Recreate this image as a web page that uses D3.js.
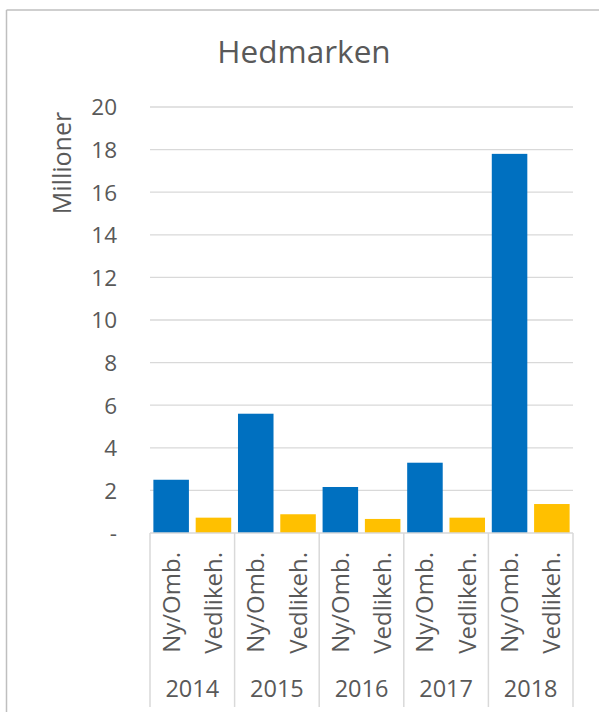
<!DOCTYPE html>
<html>
<head>
<meta charset="utf-8">
<script src="https://cdn.jsdelivr.net/npm/d3@7"></script>
<style>
  html, body { margin: 0; padding: 0; background: #fff; }
  svg { display: block; }
  text { font-family: "Open Sans", "Noto Sans", sans-serif; fill: #595959; }
</style>
</head>
<body>
<script>
const title = "Hedmarken";
const yAxisTitle = "Millioner";
const years = ["2014", "2015", "2016", "2017", "2018"];
const subCategories = ["Ny/Omb.", "Vedlikeh."];
const nyOmb = [2.5, 5.6, 2.16, 3.3, 17.8];
const vedlikeh = [0.72, 0.88, 0.66, 0.72, 1.36];
const yTicks = [0, 2, 4, 6, 8, 10, 12, 14, 16, 18, 20];
const colors = ["#0070C0", "#FFC000"];

(function () {
const W = 599, H = 713;
const svg = d3.select("body").append("svg").attr("width", W).attr("height", H);

// outer frame (top and left visible)
svg.append("line").attr("x1", 6.5).attr("x2", W).attr("y1", 10).attr("y2", 10)
  .attr("stroke", "#bfbfbf").attr("stroke-width", 1.5);
svg.append("line").attr("x1", 6.5).attr("x2", 6.5).attr("y1", 10).attr("y2", 712)
  .attr("stroke", "#bfbfbf").attr("stroke-width", 1.5);

const pLeft = 150, pRight = 573, pTop = 107, pBottom = 533;

const y = d3.scaleLinear().domain([0, 20]).range([pBottom, pTop]);
const x0 = d3.scaleBand().domain(years).range([pLeft, pRight]).paddingInner(0).paddingOuter(0);
const x1 = d3.scaleBand().domain(subCategories).range([0, x0.bandwidth()]).paddingInner(0.16).paddingOuter(0.08);

// gridlines
svg.append("g").selectAll("line").data(yTicks.filter(d => d > 0)).join("line")
  .attr("x1", pLeft).attr("x2", pRight)
  .attr("y1", d => y(d)).attr("y2", d => y(d))
  .attr("stroke", "#d9d9d9").attr("stroke-width", 1.3);

// y axis labels
const yAxis = d3.axisLeft(y).tickValues(yTicks).tickSize(0).tickPadding(0)
  .tickFormat(d => d === 0 ? "-" : d3.format("d")(d));
const yG = svg.append("g").attr("transform", `translate(${117},0)`).call(yAxis);
yG.select(".domain").remove();
yG.selectAll("text").style("font-size", "22.5px").attr("fill", "#595959")
  .attr("font-family", "Open Sans").attr("dy", "0.35em").attr("x", 0);

// bars
const data = years.map((yr, i) => ({ year: yr, values: [nyOmb[i], vedlikeh[i]] }));
const groups = svg.append("g").selectAll("g").data(data).join("g")
  .attr("transform", d => `translate(${x0(d.year)},0)`);
groups.selectAll("rect").data(d => d.values.map((v, j) => ({ key: subCategories[j], v, j })))
  .join("rect")
  .attr("x", d => x1(d.key))
  .attr("width", x1.bandwidth())
  .attr("y", d => y(d.v))
  .attr("height", d => y(0) - y(d.v))
  .attr("fill", d => colors[d.j]);

// baseline
svg.append("line").attr("x1", pLeft).attr("x2", pRight).attr("y1", pBottom).attr("y2", pBottom)
  .attr("stroke", "#d9d9d9").attr("stroke-width", 1.5);

// group dividers
const bounds = years.map(yr => x0(yr)).concat([pRight]);
svg.append("g").selectAll("line").data(bounds).join("line")
  .attr("x1", d => d).attr("x2", d => d)
  .attr("y1", pBottom).attr("y2", 707)
  .attr("stroke", "#d9d9d9").attr("stroke-width", 1.5);

// sub-category labels (rotated)
groups.selectAll("text.sub").data(subCategories).join("text")
  .attr("class", "sub")
  .attr("transform", d => `translate(${x1(d) + x1.bandwidth() / 2 + 8.5},552) rotate(-90)`)
  .attr("text-anchor", "end")
  .style("font-size", "24px")
  .text(d => d);

// year labels
svg.append("g").selectAll("text").data(years).join("text")
  .attr("x", d => x0(d) + x0.bandwidth() / 2)
  .attr("y", 697)
  .attr("text-anchor", "middle")
  .style("font-size", "23.5px")
  .text(d => d);

// title
svg.append("text").attr("x", 304).attr("y", 63).attr("text-anchor", "middle")
  .style("font-size", "31.5px").text(title);

// y axis title
svg.append("text").attr("transform", `translate(71,163) rotate(-90)`)
  .attr("text-anchor", "middle").style("font-size", "25px").text(yAxisTitle);
})();
</script>
</body>
</html>
